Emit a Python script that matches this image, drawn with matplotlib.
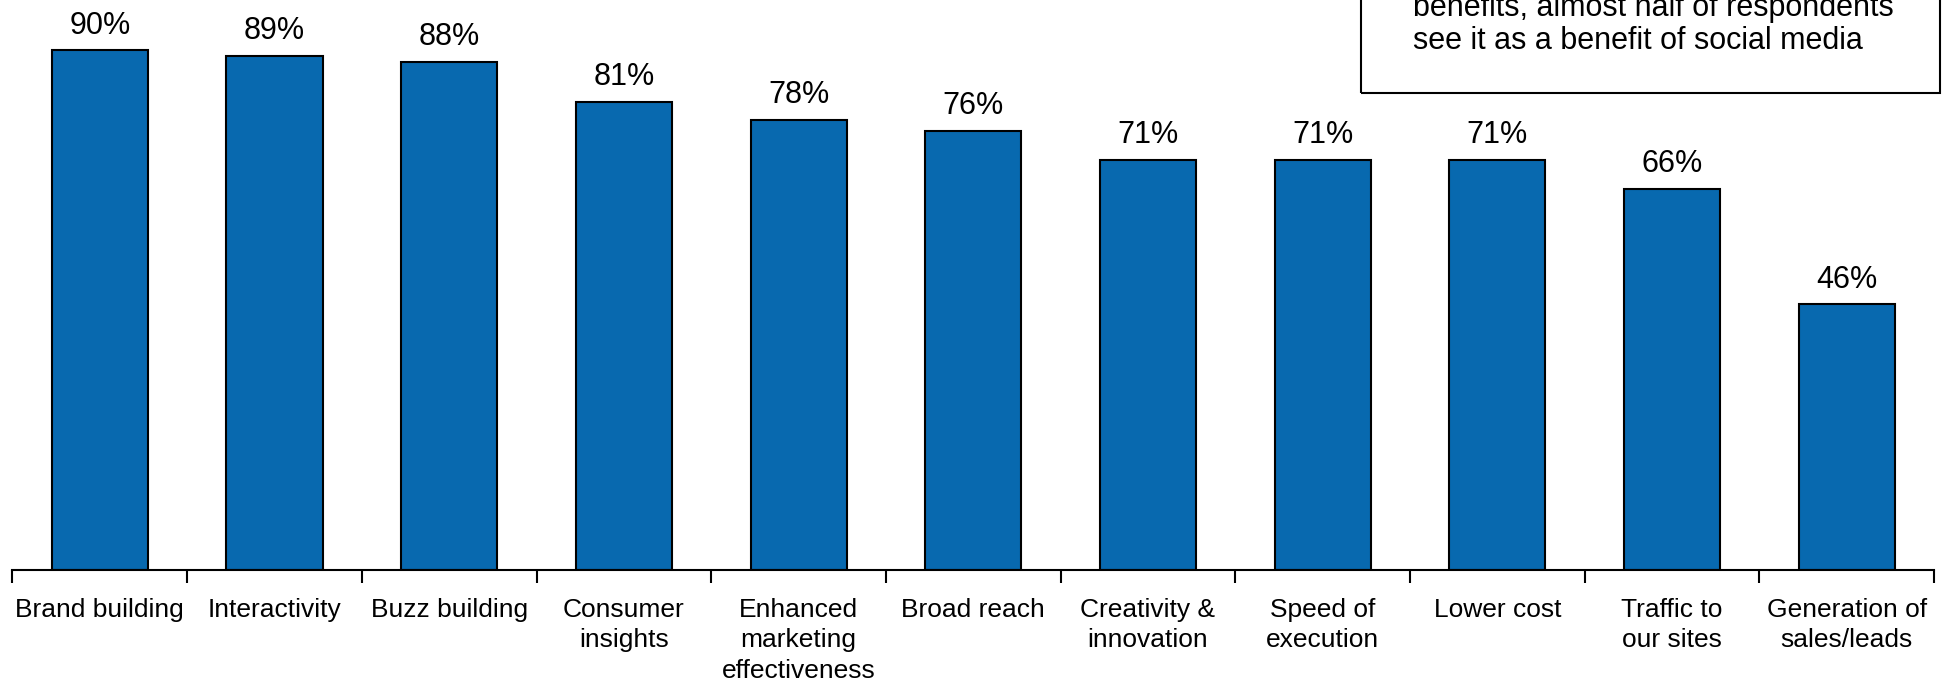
import matplotlib
matplotlib.use("Agg")
import matplotlib.pyplot as plt
import numpy as np
from matplotlib.patches import Rectangle

plt.rcParams['font.family'] = ['Liberation Sans', 'DejaVu Sans']

categories = [
    "Brand building", "Interactivity", "Buzz building", "Consumer\ninsights",
    "Enhanced\nmarketing\neffectiveness", "Broad reach", "Creativity &\ninnovation",
    "Speed of\nexecution", "Lower cost", "Traffic to\nour sites",
    "Generation of\nsales/leads",
]
values = [90, 89, 88, 81, 78, 76, 71, 71, 71, 66, 46]
value_labels = [f"{v}%" for v in values]
note_lines = ["benefits, almost half of respondents",
              "see it as a benefit of social media"]

fig = plt.figure(figsize=(19.44, 6.84), dpi=100)
ax = fig.add_axes([0.0064, 0.1667, 0.9885, 0.8333])

x = np.arange(len(categories))
bars = ax.bar(x, values, width=0.55, color="#0869AF", edgecolor="black",
              linewidth=1.5, zorder=2)

for rect, lab in zip(bars, value_labels):
    ax.annotate(lab, (rect.get_x() + rect.get_width() / 2, rect.get_height()),
                xytext=(0, 7), textcoords="offset points",
                ha="center", va="bottom", fontsize=22)

ax.set_xlim(-0.5, len(categories) - 0.5)
ax.set_ylim(0, 98.7)
ax.set_yticks([])
for s in ("left", "right", "top"):
    ax.spines[s].set_visible(False)
ax.spines["bottom"].set_linewidth(1.5)

ax.set_xticks(x)
ax.set_xticklabels(categories, fontsize=19, linespacing=1.35)
ax.tick_params(axis="x", which="major", length=0, pad=20)
ax.set_xticks(np.arange(len(categories) + 1) - 0.5, minor=True)
ax.tick_params(axis="x", which="minor", length=9.5, width=1.5, direction="out")

# annotation box in the upper right corner
fig.patches.append(Rectangle((1361 / 1944, 1 - 93 / 684), (1940 - 1361) / 1944,
                             0.2, transform=fig.transFigure, fill=False,
                             edgecolor="black", linewidth=1.5))
fig.text(1413 / 1944, 1 - 16 / 684, note_lines[0], fontsize=22,
         ha="left", va="baseline")
fig.text(1413 / 1944, 1 - 49 / 684, note_lines[1], fontsize=22,
         ha="left", va="baseline")

fig.savefig("out.png", dpi=100)
